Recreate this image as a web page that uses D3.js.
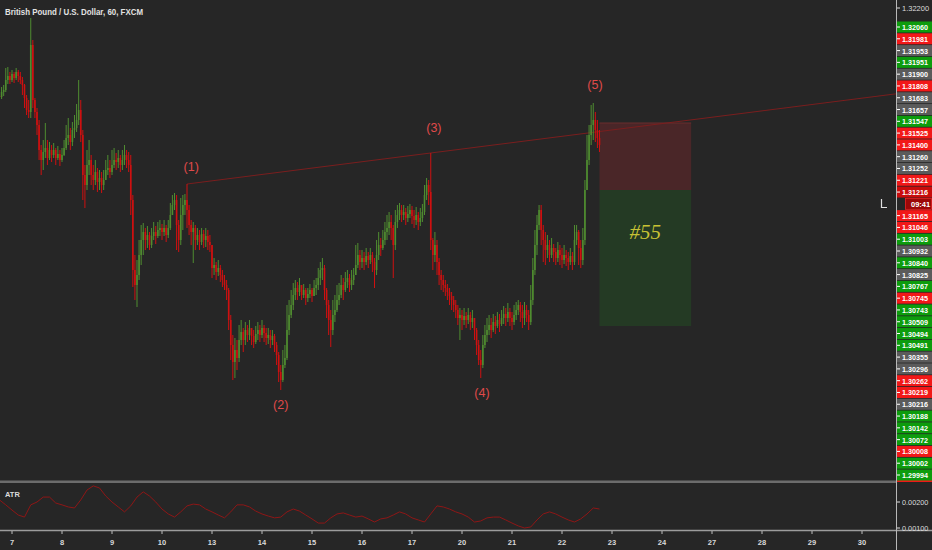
<!DOCTYPE html>
<html><head><meta charset="utf-8">
<script src="https://cdn.jsdelivr.net/npm/d3@7"></script>
<style>html,body{margin:0;padding:0;background:#262626;overflow:hidden}</style>
</head><body><svg id="c" width="932" height="550"></svg>
<script>
const title = "British Pound / U.S. Dollar, 60, FXCM";
const dayLabels = ["7","8","9","10","13","14","15","16","17","20","21","22","23","24","27","28","29","30"];
const firstOpen = 1.3176;
const closes = [1.31755,1.3178,1.3179,1.3184,1.3186,1.3184,1.3187,1.3185,1.3188,1.3186,
1.3184,1.31815,1.3175,1.3169,1.3168,1.32015,1.3174,1.3168,1.31615,1.3149,
1.3144,1.3148,1.3150,1.3145,1.3149,1.31465,1.3149,1.3145,1.3147,1.3144,
1.31465,1.3150,1.3155,1.31565,1.3153,1.3159,1.3160,1.3164,1.3169,1.31565,
1.31365,1.31315,1.31415,1.3144,1.31365,1.3134,1.3138,1.3133,1.3135,1.31315,
1.3134,1.3139,1.3140,1.3138,1.31415,1.3144,1.3143,1.3145,1.31415,1.3144,
1.31465,1.3144,1.31415,1.3124,1.3089,1.30815,1.30865,1.30965,1.3104,1.3108,
1.3104,1.31065,1.31015,1.3106,1.3108,1.3106,1.3109,1.3110,1.3108,1.3110,
1.31065,1.3110,1.31165,1.31215,1.3124,1.31115,1.3104,1.31165,1.31215,1.3124,
1.3119,1.31115,1.3108,1.3110,1.3104,1.31065,1.3103,1.3107,1.3104,1.3106,
1.3103,1.31015,1.3090,1.30915,1.3088,1.3090,1.30865,1.3084,1.30815,1.3079,
1.3064,1.30515,1.3043,1.3049,1.3045,1.3054,1.3058,1.3054,1.3059,1.30565,
1.3060,1.3056,1.3053,1.3057,1.3059,1.30565,1.3060,1.30575,1.3055,1.30565,
1.3054,1.3056,1.30515,1.30465,1.3038,1.3034,1.30415,1.3045,1.3059,1.30665,
1.30715,1.30765,1.3080,1.3078,1.30815,1.30765,1.3079,1.3075,1.3077,1.3079,
1.3076,1.3080,1.30815,1.3085,1.3089,1.3090,1.3079,1.30715,1.3064,1.3059,
1.30665,1.3069,1.3074,1.30765,1.30815,1.3079,1.3083,1.3085,1.30815,1.3084,
1.30865,1.30915,1.30965,1.3093,1.3095,1.3093,1.3096,1.3094,1.30965,1.3093,
1.3089,1.30965,1.31015,1.3100,1.3104,1.3108,1.3110,1.3113,1.3110,1.31015,
1.3113,1.31165,1.3119,1.31165,1.3118,1.3115,1.3117,1.3119,1.3116,1.3114,
1.31165,1.3113,1.3115,1.3118,1.31265,1.31315,1.3128,1.3104,1.30965,1.31015,
1.3093,1.30865,1.3084,1.30815,1.3080,1.3078,1.3076,1.3074,1.30715,1.3069,
1.3065,1.30665,1.3064,1.3066,1.3064,1.30665,1.3063,1.3065,1.3059,1.30515,
1.3044,1.30415,1.30515,1.30565,1.3059,1.30615,1.3059,1.3063,1.3061,1.3064,
1.3062,1.3065,1.3067,1.3065,1.3068,1.3065,1.3063,1.30665,1.3069,1.30715,
1.3068,1.3065,1.3069,1.30665,1.3063,1.3074,1.3089,1.31015,1.31115,1.3119,
1.3109,1.3104,1.3099,1.31015,1.30965,1.3100,1.3098,1.3095,1.3099,1.30965,
1.3094,1.30965,1.3095,1.3093,1.3096,1.3093,1.3104,1.3108,1.3100,1.3094,
1.3104,1.3129,1.3144,1.31565,1.31615,1.3164,1.3159,1.3155,1.31515];
const highs = [1.3180,1.31805,1.31815,1.3190,1.31905,1.3188,1.3189,1.3188,1.3190,1.3189,
1.3188,1.31855,1.3182,1.31765,1.3174,1.3215,1.3204,1.3175,1.3170,1.3164,
1.31515,1.3154,1.31625,1.3154,1.3153,1.31515,1.31525,1.3150,1.3151,1.3149,
1.3150,1.3154,1.31615,1.3165,1.3160,1.3163,1.31665,1.3172,1.3184,1.3174,
1.3159,1.31415,1.3149,1.3154,1.31465,1.31415,1.3144,1.3140,1.3139,1.3138,
1.3139,1.3144,1.31465,1.3144,1.3149,1.3150,1.31475,1.3149,1.31465,1.3149,
1.31515,1.3149,1.3148,1.31465,1.31265,1.30965,1.3094,1.3104,1.31115,1.31125,
1.3110,1.3111,1.3108,1.3110,1.3113,1.3111,1.3113,1.3114,1.3112,1.3114,
1.31115,1.3114,1.31225,1.31265,1.31275,1.31265,1.3114,1.3125,1.31265,1.3127,
1.3132,1.31215,1.3114,1.3113,1.31115,1.3110,1.3109,1.3110,1.3109,1.3110,
1.3109,1.31065,1.31015,1.3095,1.3093,1.3094,1.30915,1.3089,1.30865,1.3084,
1.3080,1.30665,1.30565,1.3055,1.3054,1.30615,1.3064,1.3060,1.3063,1.30615,
1.3064,1.3060,1.3059,1.3061,1.3063,1.30615,1.3064,1.30615,1.3060,1.3060,
1.3059,1.3059,1.3057,1.3053,1.3048,1.30415,1.3049,1.30515,1.30715,1.3074,
1.3079,1.30825,1.3084,1.3083,1.3085,1.30815,1.3082,1.3080,1.3080,1.3082,
1.3080,1.3084,1.3085,1.3090,1.3093,1.3095,1.30915,1.3080,1.3074,1.3069,
1.3074,1.30765,1.30815,1.30825,1.30865,1.3085,1.3088,1.3089,1.3087,1.3089,
1.3090,1.31015,1.31025,1.3099,1.3099,1.3098,1.3100,1.3098,1.3100,1.3098,
1.3095,1.3104,1.3108,1.3105,1.3109,1.3113,1.31165,1.3118,1.31165,1.31115,
1.3119,1.31215,1.31225,1.31215,1.31215,1.3120,1.3121,1.3122,1.3121,1.3119,
1.31205,1.3118,1.3120,1.3122,1.31315,1.3135,1.3134,1.31475,1.3105,1.3108,
1.3104,1.3095,1.3089,1.30865,1.3084,1.3082,1.3080,1.3078,1.3076,1.3074,
1.30715,1.3070,1.3069,1.3070,1.3068,1.3070,1.3068,1.3069,1.3065,1.3060,
1.3054,1.3049,1.30565,1.30615,1.3065,1.30665,1.3065,1.3067,1.3066,1.3068,
1.3067,1.3069,1.3071,1.3070,1.30725,1.3070,1.3068,1.30715,1.3073,1.3074,
1.3073,1.30715,1.3073,1.30715,1.3069,1.30815,1.3095,1.3109,1.31165,1.31215,
1.31215,1.31115,1.3108,1.31065,1.3104,1.3105,1.3102,1.3100,1.3103,1.31015,
1.3100,1.31015,1.3099,1.3098,1.3100,1.3098,1.31115,1.31115,1.3109,1.3104,
1.3110,1.3134,1.31565,1.31615,1.31715,1.31725,1.3168,1.3164,1.3159];
const lows = [1.3174,1.31745,1.3176,1.3178,1.3182,1.3182,1.3183,1.31825,1.3184,1.3183,
1.3182,1.31765,1.3170,1.31665,1.3165,1.3165,1.3170,1.3165,1.31565,1.3144,
1.31365,1.3139,1.3145,1.31415,1.3144,1.3143,1.3145,1.31415,1.3144,1.3141,
1.3143,1.3146,1.3149,1.31515,1.3149,1.3151,1.3155,1.3158,1.31615,1.3153,
1.3124,1.3120,1.3129,1.31365,1.31315,1.3129,1.31315,1.3128,1.3129,1.31275,
1.3129,1.3134,1.31365,1.3135,1.31365,1.3140,1.3139,1.3140,1.3138,1.3139,
1.31415,1.3140,1.3138,1.31165,1.30805,1.3074,1.30705,1.3084,1.30915,1.30965,
1.3099,1.3100,1.3099,1.3100,1.3104,1.3102,1.3105,1.3106,1.3104,1.3106,
1.3103,1.3105,1.3109,1.31165,1.3119,1.3099,1.3098,1.31015,1.3109,1.31165,
1.3110,1.31065,1.31015,1.30925,1.3099,1.31015,1.3099,1.31015,1.3100,1.31005,
1.3099,1.3098,1.3085,1.30865,1.3084,1.3086,1.3083,1.30805,1.3079,1.3074,
1.3059,1.3044,1.3034,1.3035,1.3039,1.3043,1.30515,1.3048,1.30515,1.3053,
1.3054,1.30515,1.3050,1.3052,1.3054,1.3053,1.3055,1.3053,1.30515,1.3052,
1.3050,1.30515,1.3048,1.30415,1.3033,1.3029,1.3033,1.3040,1.3044,1.30565,
1.3065,1.3069,1.3074,1.3074,1.3076,1.3074,1.3075,1.30715,1.3073,1.3075,
1.3073,1.3076,1.30765,1.3079,1.30815,1.3084,1.3074,1.3065,1.30565,1.30505,
1.30565,1.3063,1.3068,1.30715,1.3075,1.3074,1.3078,1.3080,1.3078,1.3079,
1.30815,1.30865,1.3090,1.3089,1.3090,1.3089,1.30915,1.3090,1.3092,1.3088,
1.3080,1.30865,1.3094,1.3096,1.3099,1.31015,1.3104,1.31065,1.3104,1.3085,
1.3099,1.3110,1.3114,1.3113,1.3114,1.31115,1.3113,1.3115,1.3112,1.3110,
1.31115,1.3109,1.3111,1.3113,1.31165,1.3124,1.31215,1.3099,1.3089,1.3093,
1.30865,1.30815,1.3079,1.3078,1.3076,1.3074,1.30715,1.3069,1.3068,1.3065,
1.30615,1.3054,1.3059,1.30615,1.3060,1.3062,1.3059,1.3060,1.3054,1.30465,
1.30415,1.3035,1.3040,1.3050,1.3053,1.30565,1.3055,1.3058,1.3057,1.3060,
1.3058,1.3061,1.3062,1.3061,1.3063,1.3061,1.3059,1.30615,1.3064,1.30665,
1.3063,1.3060,1.30615,1.3063,1.3059,1.30615,1.30715,1.30865,1.30965,1.3109,
1.31015,1.3093,1.30915,1.3095,1.3093,1.3095,1.3093,1.30915,1.3093,1.30915,
1.3090,1.3092,1.3091,1.3089,1.30915,1.3089,1.30915,1.31015,1.30915,1.3090,
1.30915,1.31015,1.3129,1.31415,1.31515,1.3154,1.3153,1.3150,1.3148];
const atrStep = 3;
const atrValues = [0.00208,0.00189,0.00169,0.00150,0.00142,0.00189,0.00200,0.00219,0.00219,0.00196,
0.00189,0.00181,0.00177,0.00208,0.00246,0.00262,0.00254,0.00223,0.00200,0.00181,
0.00162,0.00185,0.00219,0.00239,0.00223,0.00200,0.00173,0.00154,0.00142,0.00162,
0.00185,0.00192,0.00189,0.00173,0.00162,0.00150,0.00139,0.00162,0.00189,0.00189,
0.00181,0.00165,0.00154,0.00146,0.00139,0.00142,0.00162,0.00173,0.00165,0.00150,
0.00135,0.00119,0.00119,0.00139,0.00154,0.00158,0.00150,0.00142,0.00146,0.00135,
0.00123,0.00135,0.00139,0.00150,0.00162,0.00154,0.00139,0.00131,0.00123,0.00154,
0.00185,0.00181,0.00173,0.00162,0.00154,0.00142,0.00123,0.00127,0.00139,0.00142,
0.00142,0.00131,0.00119,0.00108,0.00100,0.00104,0.00131,0.00154,0.00162,0.00154,
0.00142,0.00131,0.00123,0.00135,0.00154,0.00177,0.00173];
const waveNames = ["(1)","(2)","(3)","(4)","(5)"];
const waveBars = [92,135,208.5,231.6,285.8];
const wavePrices = [1.31405,1.30215,1.3160,1.30275,1.31815];
const trendBars = [90,207];
const trendPrices = [1.3132,1.31475];
const posBars = [288,332];
const posStop = 1.31625, posEntry = 1.3129, posTarget = 1.3061;
const posText = "#55";
const posTextPrice = 1.3108;
const priceTicks = [1.3220];
const atrTicks = [0.002,0.001];
const axisLabelTexts = ["1.32060","1.31981","1.31953","1.31951","1.31900","1.31808","1.31683","1.31657","1.31547","1.31525","1.31400","1.31260","1.31252","1.31221","1.31216","09:41","1.31165","1.31046","1.31003","1.30932","1.30840","1.30825","1.30767","1.30745","1.30743","1.30509","1.30494","1.30491","1.30355","1.30296","1.30262","1.30219","1.30216","1.30188","1.30142","1.30072","1.30008","1.30002","1.29994"];
const axisLabelKinds = ["g","r","n","g","n","r","n","n","g","r","r","n","n","r","d","c","r","r","g","n","g","n","g","r","g","g","g","g","n","n","r","r","n","g","g","g","r","g","g"];

const W=932,H=550,AX=896,MAIN_B=481,ATR_T=483,ATR_B=530;
const svg = d3.select("#c");
const x = d3.scaleLinear().domain([0,414]).range([-0.5,862]);
const y = d3.scaleLinear().domain([1.29835,1.3224]).range([481,0]);
const ya = d3.scaleLinear().domain([0.001,0.002]).range([528,502]);
const FONT = "'Liberation Sans', Arial, sans-serif";

svg.append("rect").attr("width",W).attr("height",H).attr("fill","#262626");
const defs = svg.append("defs");
defs.append("clipPath").attr("id","cm").append("rect").attr("x",0).attr("y",0).attr("width",AX).attr("height",MAIN_B);
defs.append("clipPath").attr("id","ca").append("rect").attr("x",0).attr("y",ATR_T).attr("width",AX).attr("height",ATR_B-ATR_T);

const main = svg.append("g").attr("clip-path","url(#cm)");

// position tool
const px0 = x(posBars[0]), px1 = x(posBars[1]);
main.append("rect").attr("x",px0).attr("y",y(posStop)).attr("width",px1-px0).attr("height",y(posEntry)-y(posStop)).attr("fill","#4a2628");
main.append("rect").attr("x",px0).attr("y",y(posEntry)).attr("width",px1-px0).attr("height",y(posTarget)-y(posEntry)).attr("fill","#243a24");
main.append("line").attr("x1",px0).attr("x2",px1).attr("y1",y(posStop)).attr("y2",y(posStop)).attr("stroke","#6a2c2c").attr("stroke-width",1);
main.append("text").attr("x",(px0+px1)/2).attr("y",y(posTextPrice))
  .attr("text-anchor","middle").attr("dominant-baseline","central")
  .attr("font-family","'Liberation Serif', 'DejaVu Serif', serif").attr("font-style","italic")
  .attr("font-size",21).attr("fill","#c8c234").text(posText);

// trend line
const tx1 = x(trendBars[0]), ty1 = y(trendPrices[0]), tx2 = x(trendBars[1]), ty2 = y(trendPrices[1]);
const slope = (ty2-ty1)/(tx2-tx1);
main.append("line").attr("x1",tx1).attr("y1",ty1).attr("x2",AX).attr("y2",ty1+slope*(AX-tx1))
  .attr("stroke","#7a1e1e").attr("stroke-width",1);

// candles
const bars = closes.map((c,i)=>({i, o: i? closes[i-1] : firstOpen, c, h: highs[i], l: lows[i]}));
const UP="#4f8c30", DN="#cf1010";
const cg = main.append("g");
cg.selectAll("line.w").data(bars).join("line").attr("class","w")
  .attr("x1",d=>x(d.i)).attr("x2",d=>x(d.i)).attr("y1",d=>y(d.h)).attr("y2",d=>y(d.l))
  .attr("stroke",d=>d.c>=d.o?UP:DN).attr("stroke-width",1);
cg.selectAll("rect.b").data(bars).join("rect").attr("class","b")
  .attr("x",d=>x(d.i)-0.8).attr("width",1.6)
  .attr("y",d=>Math.min(y(d.o),y(d.c))).attr("height",d=>Math.max(1,Math.abs(y(d.o)-y(d.c))))
  .attr("fill",d=>d.c>=d.o?UP:DN);

// wave labels
main.selectAll("text.wv").data(waveNames).join("text").attr("class","wv")
  .attr("x",(d,k)=>x(waveBars[k])).attr("y",(d,k)=>y(wavePrices[k]))
  .attr("text-anchor","middle").attr("dominant-baseline","central")
  .attr("font-family",FONT).attr("font-size",12.5).attr("fill","#e04a4a").text(d=>d);

// title
svg.append("text").attr("x",5).attr("y",15).attr("font-family",FONT).attr("font-size",9)
  .attr("font-weight","bold").attr("fill","#e2e2e2").attr("textLength",138).attr("lengthAdjust","spacingAndGlyphs").text(title);

// separators
svg.append("rect").attr("x",0).attr("y",480.5).attr("width",AX).attr("height",2.5).attr("fill","#6c6c6c");
svg.append("rect").attr("x",AX).attr("y",480).attr("width",W-AX).attr("height",2).attr("fill","#f01818");
svg.append("line").attr("x1",0).attr("x2",W).attr("y1",530.5).attr("y2",530.5).attr("stroke","#9c9c9c").attr("stroke-width",1.5);
svg.append("line").attr("x1",AX+0.5).attr("x2",AX+0.5).attr("y1",0).attr("y2",H).attr("stroke","#b8b8b8").attr("stroke-width",1);

// ATR
const atrG = svg.append("g").attr("clip-path","url(#ca)");
atrG.append("path").datum(atrValues)
  .attr("d", d3.line().x((v,k)=>x(k*atrStep)).y(v=>ya(v)))
  .attr("fill","none").attr("stroke","#8e1616").attr("stroke-width",1);
svg.append("text").attr("x",5).attr("y",497).attr("font-family",FONT).attr("font-size",7.5).attr("font-weight","bold")
  .attr("fill","#dcdcdc").text("ATR");

// time axis
const dayIdx = dayLabels.map((d,k)=>6+24*k);
const tg = svg.append("g");
tg.selectAll("line").data(dayIdx).join("line").attr("x1",d=>x(d)).attr("x2",d=>x(d)).attr("y1",531).attr("y2",534)
  .attr("stroke","#bdbdbd").attr("stroke-width",1);
tg.selectAll("text").data(dayLabels).join("text").attr("x",(d,k)=>x(dayIdx[k])).attr("y",545)
  .attr("text-anchor","middle").attr("font-family",FONT).attr("font-size",7.5).attr("font-weight","bold")
  .attr("fill","#dadada").text(d=>d);

// price ticks
const yt = svg.append("g");
priceTicks.forEach(p=>{
  yt.append("line").attr("x1",AX+1).attr("x2",AX+4).attr("y1",y(p)).attr("y2",y(p)).attr("stroke","#ddd");
  yt.append("text").attr("x",AX+6).attr("y",y(p)).attr("dominant-baseline","central").attr("font-family",FONT)
    .attr("font-size",7.5).attr("fill","#dcdcdc").text(p.toFixed(5));
});
atrTicks.forEach(v=>{
  yt.append("line").attr("x1",AX+1).attr("x2",AX+4).attr("y1",ya(v)).attr("y2",ya(v)).attr("stroke","#ddd");
  yt.append("text").attr("x",AX+6).attr("y",ya(v)).attr("dominant-baseline","central").attr("font-family",FONT)
    .attr("font-size",7.3).attr("fill","#dcdcdc").text(v.toFixed(5));
});

// stacked price labels
const kindFill = {g:"#0d9c0d", r:"#f21818", n:"#5b5b5b", d:"#c90c0c", c:"#9c0808"};
const step = (475-27)/(axisLabelTexts.length-1);
const lg = svg.append("g");
axisLabelTexts.forEach((t,k)=>{
  const cy = 27 + k*step, kind = axisLabelKinds[k];
  if (kind==="c") {
    lg.append("rect").attr("x",905.5).attr("y",cy-5.5).attr("width",26).attr("height",11).attr("fill",kindFill.c).attr("stroke","#e22").attr("stroke-width",0.8);
    lg.append("text").attr("x",911).attr("y",cy+0.5).attr("dominant-baseline","central").attr("font-family",FONT)
      .attr("font-size",7.5).attr("font-weight","bold").attr("fill","#fff").text(t);
  } else {
    lg.append("rect").attr("x",AX+1).attr("y",cy-5.5).attr("width",W-AX-1).attr("height",11).attr("fill",kindFill[kind]);
    lg.append("line").attr("x1",AX+1).attr("x2",AX+4).attr("y1",cy).attr("y2",cy).attr("stroke","#fff");
    lg.append("text").attr("x",902).attr("y",cy+0.5).attr("dominant-baseline","central").attr("font-family",FONT)
      .attr("font-size",7.5).attr("font-weight","bold").attr("fill","#fff").attr("textLength",26).attr("lengthAdjust","spacingAndGlyphs").text(t);
  }
});
// small lock marker
svg.append("path").attr("d","M881.5,199 V207.5 H887").attr("fill","none").attr("stroke","#e0e0e0").attr("stroke-width",1.2);
</script></body></html>
